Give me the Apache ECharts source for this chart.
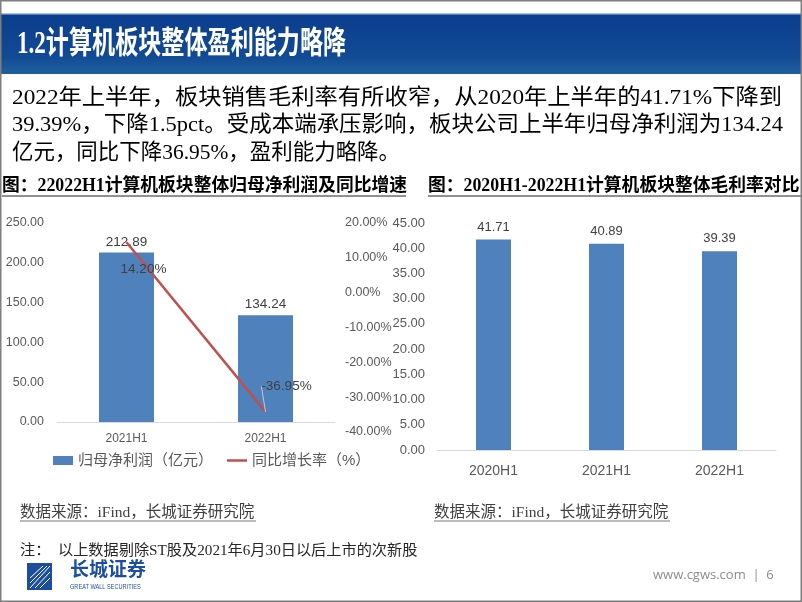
<!DOCTYPE html>
<html>
<head>
<meta charset="utf-8">
<script src="https://cdn.jsdelivr.net/npm/echarts@6/dist/echarts.min.js"></script>
<style>
html,body{margin:0;padding:0;background:#fff;}
#c{width:802px;height:602px;}
</style>
</head>
<body>
<div id="c"></div>
<script>
// ---- data ----
const leftCategories = ['2021H1', '2022H1'];
const netProfit = [212.89, 134.24];          // 归母净利润（亿元）
const yoyGrowth = [14.20, -36.95];           // 同比增长率（%）
const rightCategories = ['2020H1', '2021H1', '2022H1'];
const grossMargin = [41.71, 40.89, 39.39];   // 毛利率
const leftTicks = {min: 0, max: 250, interval: 50};
const growthTicks = {min: -40, max: 20, interval: 10};
const marginTicks = {min: 0, max: 45, interval: 5};

const titleText = '1.2计算机板块整体盈利能力略降';
const bodyLines = [
  '2022年上半年，板块销售毛利率有所收窄，从2020年上半年的41.71%下降到',
  '39.39%，下降1.5pct。受成本端承压影响，板块公司上半年归母净利润为134.24',
  '亿元，同比下降36.95%，盈利能力略降。'
];
const chartTitleL = '图：22022H1计算机板块整体归母净利润及同比增速';
const chartTitleR = '图：2020H1-2022H1计算机板块整体毛利率对比';
const sourceText = '数据来源：iFind，长城证券研究院';
const noteText = '注：  以上数据剔除ST股及2021年6月30日以后上市的次新股';

const SANS = '"Liberation Sans", "Noto Sans CJK SC", sans-serif';
const SERIF = '"Liberation Serif", "Noto Sans CJK SC", serif';
const GRAY = '#595959';
const BLUE = '#4f81bd';
const RED = '#c0504d';

const chart = echarts.init(document.getElementById('c'), null, {renderer: 'canvas'});

const measureCtx = document.createElement('canvas').getContext('2d');
function textWidth(t, font) { measureCtx.font = font; return measureCtx.measureText(t).width; }

const graphics = [
  {type: 'rect', shape: {x: 0, y: 0, width: 802, height: 602}, style: {fill: '#fff'}, z: -10},
  // title bar
  {type: 'rect', shape: {x: 1, y: 14, width: 800, height: 60},
   style: {fill: new echarts.graphic.LinearGradient(0, 0, 0, 1, [
     {offset: 0, color: '#0b3d8e'}, {offset: 0.7, color: '#114a95'}, {offset: 1, color: '#21609f'}])}},
  {type: 'rect', shape: {x: 1, y: 13, width: 800, height: 1.5}, style: {fill: '#a9c3e3'}},
  {type: 'text', x: 17, y: 45, scaleX: 0.745,
   style: {text: titleText, fill: '#fff', font: 'bold 31px ' + SERIF, verticalAlign: 'middle'}},
  // chart titles
  {type: 'text', x: 2, y: 186, style: {text: chartTitleL, fill: '#000', font: 'bold 17.8px ' + SERIF, verticalAlign: 'middle'}},
  {type: 'line', shape: {x1: 2, y1: 196, x2: 406, y2: 196}, style: {stroke: '#222', lineWidth: 1}},
  {type: 'text', x: 428, y: 186, style: {text: chartTitleR, fill: '#000', font: 'bold 17.8px ' + SERIF, verticalAlign: 'middle'}},
  {type: 'line', shape: {x1: 428, y1: 196, x2: 802, y2: 196}, style: {stroke: '#222', lineWidth: 1}},
  // sources
  {type: 'text', x: 20, y: 513, style: {text: sourceText, fill: '#404040', font: '15.5px ' + SERIF, verticalAlign: 'middle'}},
  {type: 'line', shape: {x1: 20, y1: 521, x2: 256, y2: 521}, style: {stroke: '#777', lineWidth: 1}},
  {type: 'text', x: 434, y: 513, style: {text: sourceText, fill: '#404040', font: '15.5px ' + SERIF, verticalAlign: 'middle'}},
  {type: 'line', shape: {x1: 434, y1: 521, x2: 670, y2: 521}, style: {stroke: '#777', lineWidth: 1}},
  // note
  {type: 'text', x: 20, y: 551, style: {text: noteText, fill: '#262626', font: '15.2px ' + SERIF, verticalAlign: 'middle'}},
  // logo
  {type: 'rect', shape: {x: 27, y: 563, width: 25, height: 27}, style: {fill: '#1b4f9e'}},
  {type: 'polyline', shape: {points: [[30, 588], [50, 566]]}, style: {stroke: '#fff', lineWidth: 1}},
  {type: 'polyline', shape: {points: [[30, 583], [47, 566]]}, style: {stroke: '#fff', lineWidth: 1}},
  {type: 'polyline', shape: {points: [[30, 578], [43, 566]]}, style: {stroke: '#fff', lineWidth: 1}},
  {type: 'polyline', shape: {points: [[35, 588], [50, 572]]}, style: {stroke: '#fff', lineWidth: 1}},
  {type: 'polyline', shape: {points: [[40, 588], [50, 578]]}, style: {stroke: '#fff', lineWidth: 1}},
  {type: 'text', x: 70, y: 571, style: {text: '长城证券', fill: '#1b4f9e', font: 'bold 19px ' + SERIF, verticalAlign: 'middle'}},
  {type: 'text', x: 70, y: 587, scaleX: 0.8, style: {text: 'GREAT WALL SECURITIES', fill: '#1b4f9e', font: '7px ' + SANS, verticalAlign: 'middle'}},
  // footer
  {type: 'text', x: 653, y: 575, style: {text: 'www.cgws.com  |  6', fill: '#8c8c8c', font: '13px "Open Sans", sans-serif', verticalAlign: 'middle'}},
  // frame
  {type: 'rect', shape: {x: 0.5, y: 0.5, width: 801, height: 601}, style: {fill: 'none', stroke: '#7f7f7f', lineWidth: 2}, z: 100}
];
const bodyFont = '22px ' + SERIF;
const bodyEnds = [782, 783, 400];
bodyLines.forEach((t, i) => {
  const w = textWidth(t, bodyFont);
  graphics.push({type: 'text', x: 12, y: 98 + i * 27.5, scaleX: (bodyEnds[i] - 12) / w,
    style: {text: t, fill: '#000', font: bodyFont, verticalAlign: 'middle'}});
});

const option = {
  animation: false,
  backgroundColor: '#fff',
  textStyle: {fontFamily: SANS},
  graphic: graphics,
  grid: [
    {left: 57, right: 467, top: 223, bottom: 180},
    {left: 57, right: 467, top: 223, bottom: 170},
    {left: 437, right: 26, top: 223, bottom: 152}
  ],
  legend: {
    left: 48, top: 448, itemWidth: 20, itemHeight: 9, itemGap: 14,
    textStyle: {color: GRAY, fontSize: 15, fontFamily: SANS},
    data: [
      {name: '归母净利润（亿元）', icon: 'rect'},
      {name: '同比增长率（%）', icon: 'path://M0,0H24V3H0Z'}
    ]
  },
  xAxis: [
    {type: 'category', gridIndex: 0, data: leftCategories,
     axisLine: {lineStyle: {color: '#d9d9d9', width: 1}}, axisTick: {show: false},
     axisLabel: {color: GRAY, fontSize: 12, margin: 11}},
    {type: 'category', gridIndex: 1, data: leftCategories, show: false},
    {type: 'category', gridIndex: 2, data: rightCategories,
     axisLine: {lineStyle: {color: '#d9d9d9', width: 1}}, axisTick: {show: false},
     axisLabel: {color: GRAY, fontSize: 14, margin: 14}}
  ],
  yAxis: [
    {type: 'value', gridIndex: 0, min: leftTicks.min, max: leftTicks.max, interval: leftTicks.interval,
     splitLine: {show: false}, axisLine: {show: false}, axisTick: {show: false},
     axisLabel: {color: GRAY, fontSize: 12.5, margin: 13, formatter: v => v.toFixed(2)}},
    // scale used by the growth line (same extent as the bars)
    {type: 'value', gridIndex: 0, position: 'right', min: growthTicks.min, max: growthTicks.max, interval: growthTicks.interval,
     show: false, splitLine: {show: false}},
    // visible growth tick labels (Excel draws them slightly stretched)
    {type: 'value', gridIndex: 1, position: 'right', min: growthTicks.min, max: growthTicks.max, interval: growthTicks.interval,
     splitLine: {show: false}, axisLine: {show: false}, axisTick: {show: false},
     axisLabel: {color: GRAY, fontSize: 12.5, margin: 10, formatter: v => v.toFixed(2) + '%'}},
    {type: 'value', gridIndex: 2, min: marginTicks.min, max: marginTicks.max, interval: marginTicks.interval,
     splitLine: {show: false}, axisLine: {show: false}, axisTick: {show: false},
     axisLabel: {color: GRAY, fontSize: 13, margin: 12, formatter: v => v.toFixed(2)}}
  ],
  series: [
    {name: '归母净利润（亿元）', type: 'bar', xAxisIndex: 0, yAxisIndex: 0, data: netProfit, barWidth: 55,
     itemStyle: {color: BLUE},
     label: {show: true, position: 'top', distance: 4, color: '#404040', fontSize: 13.5, formatter: p => p.value.toFixed(2)}},
    {name: '同比增长率（%）', type: 'line', xAxisIndex: 0, yAxisIndex: 1,
     data: [
       {value: yoyGrowth[0], labelLine: {show: false}},
       {value: yoyGrowth[1]}
     ],
     symbol: 'circle', symbolSize: 0, showSymbol: true,
     lineStyle: {color: RED, width: 2.5}, itemStyle: {color: RED},
     label: {show: true, position: 'inside', color: '#404040', fontSize: 13.5, formatter: p => p.value.toFixed(2) + '%'},
     labelLine: {show: true, lineStyle: {color: '#c8c8c8', width: 1}},
     labelLayout: p => p.dataIndex === 0 ? {dx: 17, dy: 27} : {dx: 21, dy: -26}
    },
    {name: '毛利率', type: 'bar', xAxisIndex: 2, yAxisIndex: 3, data: grossMargin, barWidth: 35,
     itemStyle: {color: BLUE},
     label: {show: true, position: 'top', distance: 6, color: '#404040', fontSize: 13, formatter: p => p.value.toFixed(2)}}
  ]
};
chart.setOption(option);
</script>
</body>
</html>
